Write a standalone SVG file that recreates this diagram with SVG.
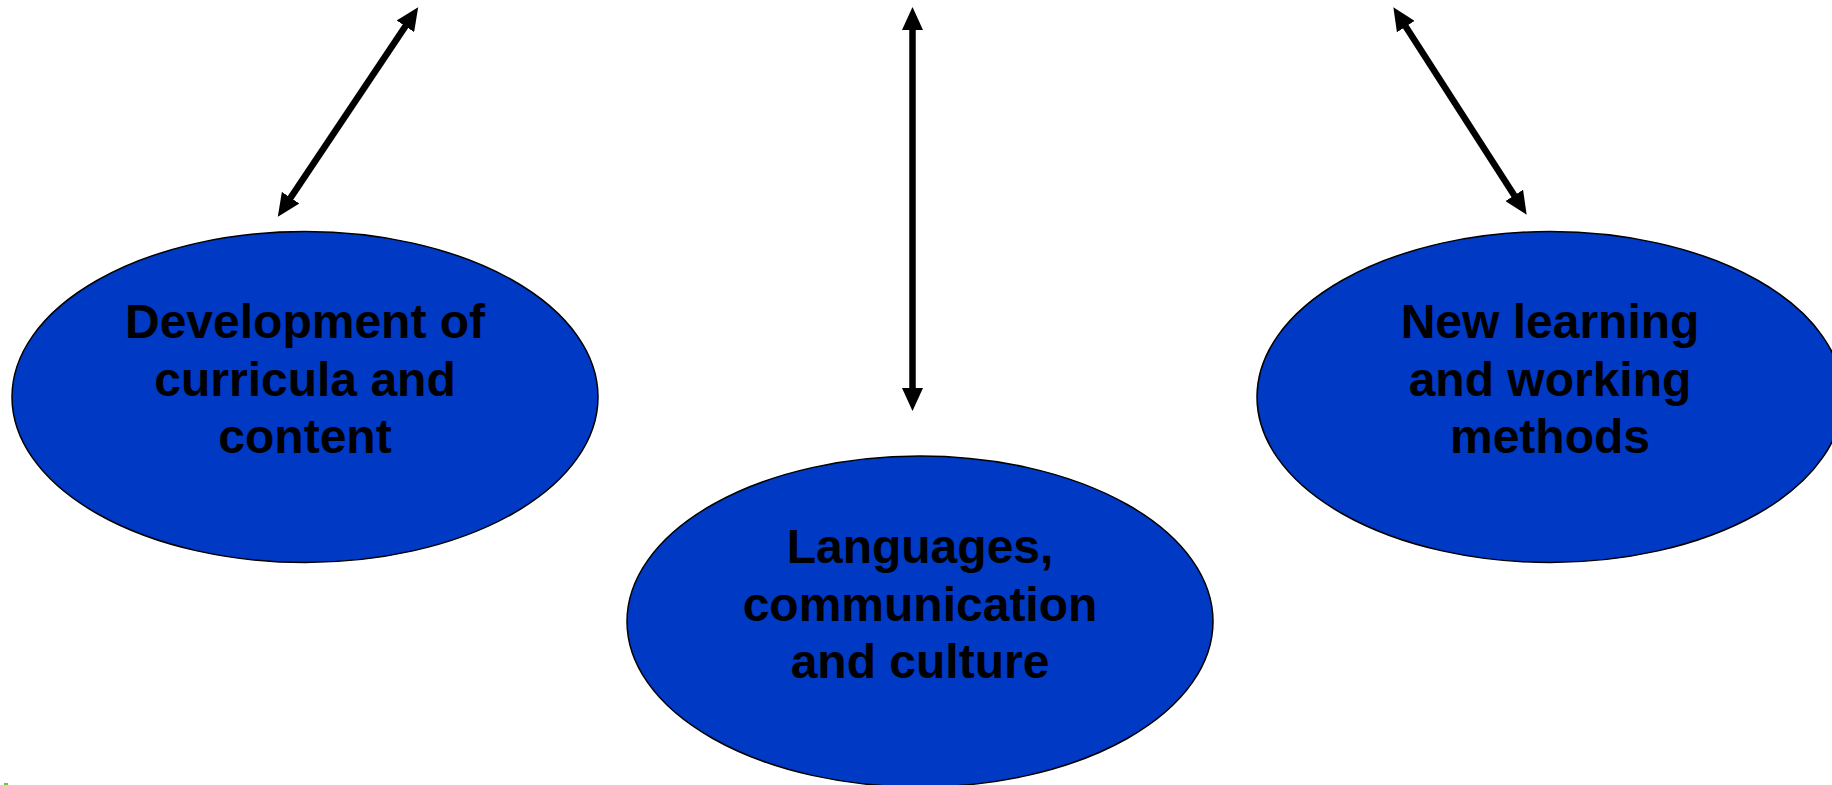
<svg xmlns="http://www.w3.org/2000/svg" width="1832" height="785" viewBox="0 0 1832 785">
  <style>
    .node ellipse { fill: #0039C3; stroke: #000000; stroke-width: 1.5; }
    .node text { font-family: "Liberation Sans", Arial, sans-serif; font-weight: bold; font-size: 48px; fill: #000000; text-anchor: middle; }
    .conn { stroke: #000000; stroke-width: 6.5; fill: none; marker-start: url(#head); marker-end: url(#head); }
  </style>
  <defs>
    <marker id="head" viewBox="0 0 23 21" markerUnits="userSpaceOnUse" markerWidth="23" markerHeight="21" refX="2" refY="10.5" orient="auto-start-reverse">
      <path d="M0,0 L23,10.5 L0,21 z" fill="#000000"/>
    </marker>
  </defs>
  <rect x="0" y="0" width="1832" height="785" fill="#FFFFFF"/>
  <g id="connectors">
    <path class="conn" d="M289.5,199.4 L406.5,24.6"/>
    <path class="conn" d="M912.5,28 L912.5,390"/>
    <path class="conn" d="M1404.7,24.9 L1515.3,197.1"/>
  </g>
  <g id="node-curricula" class="node">
    <ellipse cx="305" cy="397" rx="293" ry="165.5"/>
    <text x="305" y="338">Development of</text>
    <text x="305" y="395.5">curricula and</text>
    <text x="305" y="453">content</text>
  </g>
  <g id="node-languages" class="node">
    <ellipse cx="920" cy="621.5" rx="293" ry="165.5"/>
    <text x="920" y="563">Languages,</text>
    <text x="920" y="620.5">communication</text>
    <text x="920" y="678">and culture</text>
  </g>
  <g id="node-methods" class="node">
    <ellipse cx="1550" cy="397" rx="293" ry="165.5"/>
    <text x="1550" y="338">New learning</text>
    <text x="1550" y="395.5">and working</text>
    <text x="1550" y="453">methods</text>
  </g>
  <rect x="4" y="783" width="4" height="2" fill="#66CC33"/>
</svg>
